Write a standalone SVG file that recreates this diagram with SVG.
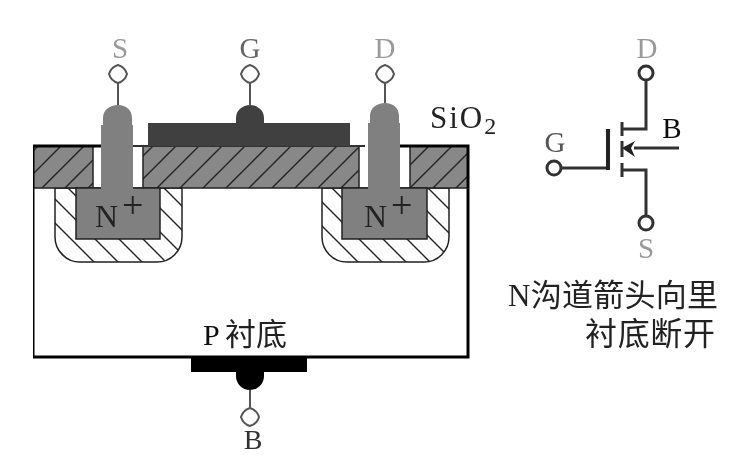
<svg xmlns="http://www.w3.org/2000/svg" width="749" height="467" viewBox="0 0 749 467">
<style>
.t{font-family:"Liberation Serif","Noto Sans CJK SC",serif;fill:#111}
.g{fill:#999}
.z{font-family:"Liberation Serif","Noto Sans CJK SC",serif;fill:#222}
.term{fill:#fff;stroke:#555;stroke-width:2}
.wire{fill:none;stroke:#555;stroke-width:2}
.sym{fill:none;stroke:#333;stroke-width:3}
.ox{fill:url(#up);stroke:#222;stroke-width:1.5}
.well{fill:url(#down);stroke:#222;stroke-width:1.5}
.nplus{fill:#808080;stroke:#222;stroke-width:1.5}
.metal{fill:#808080}
</style>
<defs>
<pattern id="up" width="23" height="23" patternUnits="userSpaceOnUse"><rect width="23" height="23" fill="#888"/><path d="M-2,2L2,-2M0,23L23,0M21,25L25,21" stroke="#222" stroke-width="1.4"/></pattern>
<pattern id="down" width="24" height="24" patternUnits="userSpaceOnUse"><rect width="24" height="24" fill="#fff"/><path d="M-2,22L2,26M0,0L24,24M22,-2L26,2" stroke="#222" stroke-width="1.4"/></pattern>
<filter id="soft" x="0" y="0" width="100%" height="100%"><feGaussianBlur stdDeviation="0.6"/></filter>
</defs>
<rect width="749" height="467" fill="#fff"/>
<g filter="url(#soft)">
<g id="substrate">
<path d="M33,188V357H468V188" fill="#fff" stroke="#000" stroke-width="3"/>
</g>
<g id="well-source"><path class="well" d="M55,188V237A25,25 0 0 0 80,262H157A25,25 0 0 0 182,237V188Z"/></g>
<g id="well-drain"><path class="well" d="M322,188V237A25,25 0 0 0 347,262H424A25,25 0 0 0 449,237V188Z"/></g>
<g id="oxide">
<rect class="ox" x="33" y="146" width="60" height="42"/>
<rect class="ox" x="143" y="146" width="216" height="42"/>
<rect class="ox" x="410" y="146" width="58" height="42"/>
<path d="M33,188V146H101M397,146H468V188" fill="none" stroke="#000" stroke-width="3"/>
<path d="M133,146H365" fill="none" stroke="#333" stroke-width="2"/>
</g>
<g id="nplus-source"><rect class="nplus" x="76" y="188" width="84" height="51"/><text class="t" x="95" y="227" font-size="32" style="fill:#222">N</text><text class="t" x="122" y="218" font-size="38" style="fill:#222">+</text></g>
<g id="nplus-drain"><rect class="nplus" x="342" y="188" width="85" height="51"/><text class="t" x="364" y="227" font-size="32" style="fill:#222">N</text><text class="t" x="391" y="218" font-size="38" style="fill:#222">+</text></g>
<g id="gate"><path d="M148,146V123H236V118A14,13 0 0 1 264,118V123H350V146Z" fill="#404040"/></g>
<g id="body-contact"><path d="M191,357H307V372H264V376A14,14 0 0 1 236,376V372H191Z" fill="#000"/></g>
<g id="contact-source"><path class="metal" d="M101,189V125H103V118C103,110 110,105 118,105C126,105 132,110 132,118V125H133V189Z"/></g>
<g id="contact-drain"><path class="metal" d="M368,189V123H370V116C370,108 377,103 385,103C393,103 399,108 399,116V123H400V189Z"/></g>
<g id="connectors">
<path class="wire" d="M118,83V105M250,83V105M385,83V103M250,390V408"/>
<path class="sym" d="M646,80V129H622M622,122V136M608,168H561M646,217V170H622M622,163V177M679,148H634M622,141V157"/>
<path d="M608,129V170" fill="none" stroke="#222" stroke-width="4"/>
<path d="M622,148L635,141L631,148L635,157Z" fill="#222"/>
</g>
<g id="term-s"><path class="term" d="M118,65Q125,67 127,74Q125,81 118,83Q111,81 109,74Q111,67 118,65Z"/><text class="t g" x="120" y="58" font-size="29" text-anchor="middle">S</text></g>
<g id="term-g"><path class="term" d="M250,65Q257,67 259,74Q257,81 250,83Q243,81 241,74Q243,67 250,65Z"/><text class="t g" x="250" y="58" font-size="29" text-anchor="middle" style="fill:#666">G</text></g>
<g id="term-d"><path class="term" d="M385,65Q392,67 394,74Q392,81 385,83Q378,81 376,74Q378,67 385,65Z"/><text class="t g" x="385" y="58" font-size="29" text-anchor="middle">D</text></g>
<g id="term-b"><path class="term" d="M250,408Q257,410 259,417Q257,424 250,426Q243,424 241,417Q243,410 250,408Z"/><text class="t" x="253" y="449" font-size="28" text-anchor="middle" style="fill:#333">B</text></g>
<g id="label-sio2"><text class="t" x="430" y="128" font-size="31" letter-spacing="2" style="fill:#222">SiO<tspan dy="6" font-size="24">2</tspan></text></g>
<g id="label-p"><text class="t" x="203" y="345" font-size="30">P</text><text class="z" x="225" y="345" font-size="31">衬底</text></g>
<g id="symbol-d"><circle class="term" cx="646" cy="73" r="7" style="stroke:#333;stroke-width:3"/><text class="t g" x="647" y="58" font-size="29" text-anchor="middle">D</text></g>
<g id="symbol-g"><circle class="term" cx="554" cy="168" r="7" style="stroke:#333;stroke-width:3"/><text class="t" x="555" y="152" font-size="29" text-anchor="middle" style="fill:#555">G</text></g>
<g id="symbol-s"><circle class="term" cx="646" cy="223" r="7" style="stroke:#333;stroke-width:3"/><text class="t g" x="646" y="258" font-size="29" text-anchor="middle">S</text></g>
<g id="symbol-b"><text class="t" x="672" y="138" font-size="29" text-anchor="middle">B</text></g>
<g id="caption">
<text class="z" x="508" y="306" font-size="31" textLength="210">N沟道箭头向里</text>
<text class="z" x="585" y="345" font-size="32" textLength="130">衬底断开</text>
</g>
</g>
</svg>
